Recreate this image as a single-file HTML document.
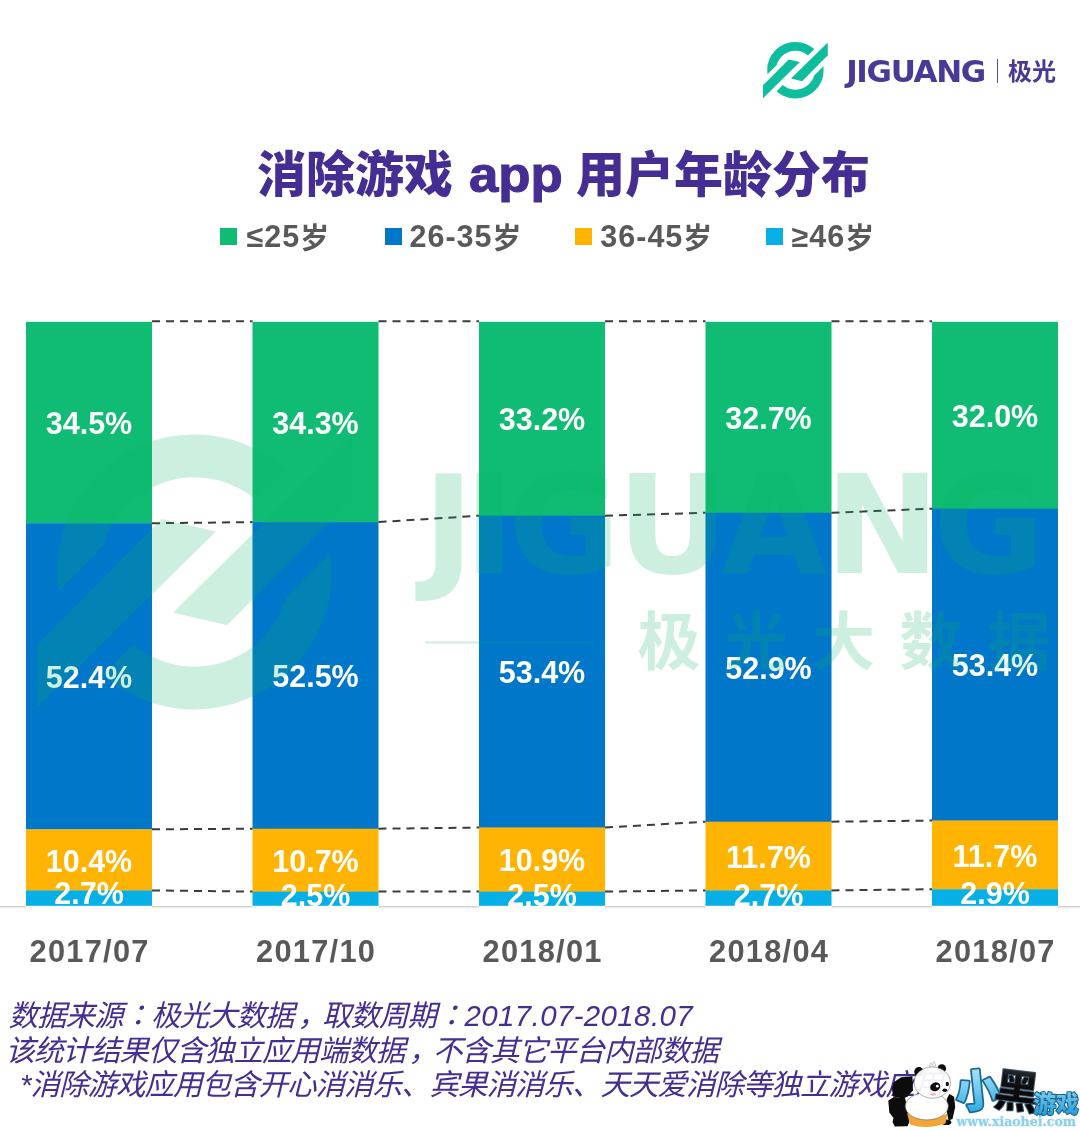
<!DOCTYPE html>
<html lang="zh-CN">
<head>
<meta charset="utf-8">
<title>消除游戏 app 用户年龄分布</title>
<style>
html,body{margin:0;padding:0;background:#fff;}
body{width:1080px;height:1130px;position:relative;overflow:hidden;font-family:"Liberation Sans","Noto Sans CJK SC",sans-serif;}
.chart{position:absolute;left:0;top:0;}
.abs{position:absolute;white-space:nowrap;}
.dl{position:absolute;width:126px;height:40px;line-height:40px;text-align:center;color:#fff;font-weight:bold;font-size:30.5px;letter-spacing:0.0px;text-indent:0.0px;white-space:nowrap;}
.xl{position:absolute;top:931.5px;width:206px;height:40px;line-height:40px;text-align:center;color:#595959;font-weight:bold;font-size:30.8px;letter-spacing:1.25px;text-indent:1.25px;white-space:nowrap;}
.title{position:absolute;top:143.0px;height:64px;line-height:64px;color:#452e93;font-weight:900;font-size:49.0px;white-space:nowrap;}
.title .lat{font-size:50px;display:inline-block;transform:scaleX(1.055);transform-origin:0 50%;-webkit-text-stroke:1.1px #452e93;}
.lg{position:absolute;top:216.2px;height:40px;line-height:40px;color:#595959;font-weight:bold;font-size:30.5px;letter-spacing:1.0px;white-space:nowrap;}
.lg .cj{font-size:29px;letter-spacing:0;position:relative;top:1.8px;}
.sq{position:absolute;top:228px;width:17px;height:17px;}
.fn{position:absolute;height:36px;line-height:36px;color:#452e93;font-style:italic;font-size:29.5px;font-weight:400;letter-spacing:-1.0px;white-space:nowrap;}
.fn .lt{letter-spacing:0.35px;}
.fn .cm{position:relative;left:4px;}
.brand{position:absolute;left:846.2px;top:50.6px;height:40px;line-height:40px;color:#4a3a97;font-family:"DejaVu Sans","Liberation Sans",sans-serif;font-weight:bold;font-size:31px;letter-spacing:-1.35px;white-space:nowrap;}
.brandcn{position:absolute;left:1008px;top:52.2px;height:40px;line-height:40px;color:#4a3a97;font-weight:bold;font-size:24px;white-space:nowrap;}
.sep{position:absolute;left:996.5px;top:59px;width:1.2px;height:24px;background:#5a4e9c;}
.wm{position:absolute;left:0;top:0;pointer-events:none;}
.panda{position:absolute;left:880px;top:1050px;}
</style>
</head>
<body>

<svg width="0" height="0" style="position:absolute">
<defs>
<g id="blades">
<polygon points="1.148,-0.99 1.148,-0.533 0.238,0.385 -0.156,0.295"/>
<polygon points="-1.148,0.99 -1.148,0.533 -0.238,-0.385 0.156,-0.295"/>
</g>
<mask id="lm" maskUnits="userSpaceOnUse" x="-1.3" y="-1.3" width="2.6" height="2.6">
<rect x="-1.3" y="-1.3" width="2.6" height="2.6" fill="#fff"/>
<use href="#blades" fill="#000" stroke="#000" stroke-width="0.326" stroke-linejoin="miter" stroke-miterlimit="10"/>
</mask>
<g id="jglogo">
<circle cx="0" cy="0" r="0.8445" fill="none" stroke-width="0.311" mask="url(#lm)"/>
<use href="#blades" stroke="none"/>
</g>
<linearGradient id="gxiao" x1="0" y1="0" x2="0" y2="1">
<stop offset="0" stop-color="#c8ecfb"/><stop offset="0.45" stop-color="#7fd0f3"/><stop offset="1" stop-color="#1b9fdc"/>
</linearGradient>
<linearGradient id="ghei" x1="0" y1="0" x2="0" y2="1">
<stop offset="0" stop-color="#5a6068"/><stop offset="0.35" stop-color="#111"/><stop offset="1" stop-color="#000"/>
</linearGradient>
<linearGradient id="gyx" x1="0" y1="0" x2="0" y2="1">
<stop offset="0" stop-color="#8fd6f5"/><stop offset="1" stop-color="#1d97d6"/>
</linearGradient>
</defs>
</svg>

<svg class="chart" width="1080" height="1130" viewBox="0 0 1080 1130">
<rect x="0" y="906" width="1080" height="1.5" fill="#d2d2d2"/>
<rect x="26.0" y="905.5" width="126" height="2.3" fill="#fff"/>
<rect x="252.5" y="905.5" width="126" height="2.3" fill="#fff"/>
<rect x="479.0" y="905.5" width="126" height="2.3" fill="#fff"/>
<rect x="705.5" y="905.5" width="126" height="2.3" fill="#fff"/>
<rect x="932.0" y="905.5" width="126" height="2.3" fill="#fff"/>
<rect x="26.0" y="321.80" width="126" height="201.78" fill="#10bc74"/>
<rect x="26.0" y="523.28" width="126" height="306.32" fill="#0077c8"/>
<rect x="26.0" y="829.30" width="126" height="61.44" fill="#ffb302"/>
<rect x="26.0" y="890.43" width="126" height="15.37" fill="#06b0e6"/>
<rect x="252.5" y="321.80" width="126" height="200.61" fill="#10bc74"/>
<rect x="252.5" y="522.11" width="126" height="306.90" fill="#0077c8"/>
<rect x="252.5" y="828.71" width="126" height="63.19" fill="#ffb302"/>
<rect x="252.5" y="891.60" width="126" height="14.20" fill="#06b0e6"/>
<rect x="479.0" y="321.80" width="126" height="194.19" fill="#10bc74"/>
<rect x="479.0" y="515.69" width="126" height="312.16" fill="#0077c8"/>
<rect x="479.0" y="827.54" width="126" height="64.36" fill="#ffb302"/>
<rect x="479.0" y="891.60" width="126" height="14.20" fill="#06b0e6"/>
<rect x="705.5" y="321.80" width="126" height="191.27" fill="#10bc74"/>
<rect x="705.5" y="512.77" width="126" height="309.24" fill="#0077c8"/>
<rect x="705.5" y="821.70" width="126" height="69.03" fill="#ffb302"/>
<rect x="705.5" y="890.43" width="126" height="15.37" fill="#06b0e6"/>
<rect x="932.0" y="321.80" width="126" height="187.18" fill="#10bc74"/>
<rect x="932.0" y="508.68" width="126" height="312.16" fill="#0077c8"/>
<rect x="932.0" y="820.54" width="126" height="69.03" fill="#ffb302"/>
<rect x="932.0" y="889.26" width="126" height="16.54" fill="#06b0e6"/>
<g stroke="#3c3c3c" stroke-width="2" stroke-dasharray="8 6" fill="none">
<line x1="152.0" y1="321.30" x2="252.5" y2="321.30"/>
<line x1="152.0" y1="523.28" x2="252.5" y2="522.11"/>
<line x1="152.0" y1="829.30" x2="252.5" y2="828.71"/>
<line x1="152.0" y1="890.43" x2="252.5" y2="891.60"/>
<line x1="378.5" y1="321.30" x2="479.0" y2="321.30"/>
<line x1="378.5" y1="522.11" x2="479.0" y2="515.69"/>
<line x1="378.5" y1="828.71" x2="479.0" y2="827.54"/>
<line x1="378.5" y1="891.60" x2="479.0" y2="891.60"/>
<line x1="605.0" y1="321.30" x2="705.5" y2="321.30"/>
<line x1="605.0" y1="515.69" x2="705.5" y2="512.77"/>
<line x1="605.0" y1="827.54" x2="705.5" y2="821.70"/>
<line x1="605.0" y1="891.60" x2="705.5" y2="890.43"/>
<line x1="831.5" y1="321.30" x2="932.0" y2="321.30"/>
<line x1="831.5" y1="512.77" x2="932.0" y2="508.68"/>
<line x1="831.5" y1="821.70" x2="932.0" y2="820.54"/>
<line x1="831.5" y1="890.43" x2="932.0" y2="889.26"/>
</g>
</svg>
<svg class="abs" style="left:755px;top:30px" width="90" height="80" viewBox="755 30 90 80">
<g transform="translate(795.4 70.3) scale(28.2)" fill="#0dbd9d" stroke="#0dbd9d"><use href="#jglogo"/></g>
</svg>
<div class="brand">JIGUANG</div>
<div class="sep"></div>
<div class="brandcn">极光</div>

<div class="title" style="left:257px">消除游戏</div>
<div class="title" style="left:468.5px;font-weight:bold"><span class="lat">app</span></div>
<div class="title" style="left:576px">用户年龄分布</div>

<div class="sq" style="left:219.5px;background:#10bc74"></div><div class="lg" style="left:246.6px">≤25<span class="cj">岁</span></div>
<div class="sq" style="left:385px;background:#0077c8"></div><div class="lg" style="left:409.5px">26-35<span class="cj">岁</span></div>
<div class="sq" style="left:575px;background:#ffb302"></div><div class="lg" style="left:600.3px">36-45<span class="cj">岁</span></div>
<div class="sq" style="left:765.5px;background:#06b0e6"></div><div class="lg" style="left:791.6px">≥46<span class="cj">岁</span></div>

<div class="dl" style="left:26.0px;top:403.2px">34.5%</div>
<div class="dl" style="left:26.0px;top:657.0px">52.4%</div>
<div class="dl" style="left:26.0px;top:840.6px">10.4%</div>
<div class="dl" style="left:26.0px;top:872.6px">2.7%</div>
<div class="xl" style="left:-14.0px">2017/07</div>
<div class="dl" style="left:252.5px;top:402.7px">34.3%</div>
<div class="dl" style="left:252.5px;top:656.1px">52.5%</div>
<div class="dl" style="left:252.5px;top:840.9px">10.7%</div>
<div class="dl" style="left:252.5px;top:874.9px">2.5%</div>
<div class="xl" style="left:212.5px">2017/10</div>
<div class="dl" style="left:479.0px;top:399.4px">33.2%</div>
<div class="dl" style="left:479.0px;top:652.3px">53.4%</div>
<div class="dl" style="left:479.0px;top:840.3px">10.9%</div>
<div class="dl" style="left:479.0px;top:874.9px">2.5%</div>
<div class="xl" style="left:439.0px">2018/01</div>
<div class="dl" style="left:705.5px;top:398.0px">32.7%</div>
<div class="dl" style="left:705.5px;top:647.9px">52.9%</div>
<div class="dl" style="left:705.5px;top:836.8px">11.7%</div>
<div class="dl" style="left:705.5px;top:874.5px">2.7%</div>
<div class="xl" style="left:665.5px">2018/04</div>
<div class="dl" style="left:932.0px;top:395.9px">32.0%</div>
<div class="dl" style="left:932.0px;top:645.3px">53.4%</div>
<div class="dl" style="left:932.0px;top:835.6px">11.7%</div>
<div class="dl" style="left:932.0px;top:873.4px">2.9%</div>
<div class="xl" style="left:892.0px">2018/07</div>

<div class="fn" style="left:8.5px;top:997.5px">数据来源<span class="pc" lang="zh-TW">：</span>极光大数据<span class="cm">，</span>取数周期<span class="pc" lang="zh-TW">：</span><span class="lt">2017.07-2018.07</span></div>
<div class="fn" style="left:5.5px;top:1032.5px">该统计结果仅含独立应用端数据<span class="cm">，</span>不含其它平台内部数据</div>
<div class="fn" style="left:20px;top:1066.5px">*消除游戏应用包含开心消消乐、宾果消消乐、天天爱消除等独立游戏应用</div>

<svg class="wm" width="1080" height="1130" viewBox="0 0 1080 1130">
<g opacity="0.21" fill="#0eb064" stroke="#0eb064">
<g transform="translate(194.5 572) scale(137.5)"><use href="#jglogo"/></g>
<text x="423 464 508 617 721 825 933" y="573" font-family="'DejaVu Sans','Liberation Sans',sans-serif" font-weight="bold" font-size="137" stroke="none">JIGUANG</text>
<rect x="425" y="641.5" width="170" height="2" stroke="none"/>
<text x="637.5 725 812 899.5 987.5" y="664" font-family="'Noto Sans CJK SC',sans-serif" font-weight="700" font-size="63" stroke="none">极光大数据</text>
</g>
</svg>
<svg class="panda" width="200" height="80" viewBox="880 1050 200 80">
<g>
<!-- body -->
<polygon points="893.9,1081.9 901.3,1077.2 912.4,1076.3 913,1090.2 907.8,1096.5 903.1,1098.5 893,1096.5 892,1088.3" fill="#0c0c0c"/>
<polygon points="888.3,1100.4 893.9,1097 905,1098 908,1110.6 909.5,1121.7 907.5,1126.3 894.8,1126.5 892.5,1122 893.5,1118 889.3,1112.4" fill="#0c0c0c"/>
<polygon points="949.4,1093.9 954.1,1096.7 955.2,1106.9 952.5,1118.9 948.5,1120.5 946,1108 947,1098.5" fill="#0c0c0c"/>
<ellipse cx="946.3" cy="1122.3" rx="5" ry="2.8" fill="#0c0c0c"/>
<path d="M907,1113 Q926,1124 947.5,1113.5 L945.5,1123.5 Q926,1130 910,1124.5 Z" fill="#f2a637"/>
<ellipse cx="926.8" cy="1106.3" rx="21.5" ry="13.6" fill="#fff" fill-opacity="0.97" stroke="#666" stroke-width="0.6"/>
<!-- head -->
<circle cx="918.9" cy="1071.8" r="4.7" fill="#0c0c0c"/>
<circle cx="941.8" cy="1068.6" r="4.3" fill="#0c0c0c"/>
<ellipse cx="932.3" cy="1082.6" rx="18.2" ry="15.6" fill="#fff" fill-opacity="0.93" stroke="#777" stroke-width="0.6"/>
<polygon points="929,1066 931,1062.5 932.5,1065 934,1061.5 936,1066" fill="#fff" stroke="#999" stroke-width="0.5"/>
<ellipse cx="935.2" cy="1086.8" rx="5.2" ry="4.3" fill="#0c0c0c" transform="rotate(-25 935.2 1086.8)"/>
<circle cx="937.3" cy="1086.2" r="1.4" fill="#fff"/>
<ellipse cx="947.3" cy="1084" rx="1.6" ry="2.2" fill="#0c0c0c"/>
<ellipse cx="944.8" cy="1090.3" rx="2.4" ry="1.7" fill="#0c0c0c"/>
<ellipse cx="933.2" cy="1094.3" rx="3.1" ry="1.4" fill="#f4b6c2"/>
</g>
<!-- brand text -->
<g font-family="'Noto Sans CJK SC','Liberation Sans',sans-serif" font-weight="900" stroke-linejoin="round" paint-order="stroke">
<text x="955.5" y="1106.5" font-size="44" fill="url(#gxiao)" stroke="#1d6a90" stroke-width="3.6" transform="rotate(-6 977 1090)">小</text>
<text x="994.5" y="1107.5" font-size="45" font-weight="700" fill="url(#ghei)" stroke="#3f5d73" stroke-width="2" transform="rotate(7 1016 1090)">黑</text>
<text x="1033.5" y="1111.5" font-size="22.5" fill="url(#gyx)" stroke="#1b658c" stroke-width="2.2" font-weight="900">游戏</text>
</g>
<text x="956.5" y="1126" font-family="'DejaVu Serif','Liberation Serif',serif" font-weight="bold" font-size="12.6" fill="#8ccfee" stroke="#d9f0fa" stroke-width="1.2" paint-order="stroke" textLength="119.5" lengthAdjust="spacingAndGlyphs">www.xiaohei.com</text>
</svg>

</body>
</html>
